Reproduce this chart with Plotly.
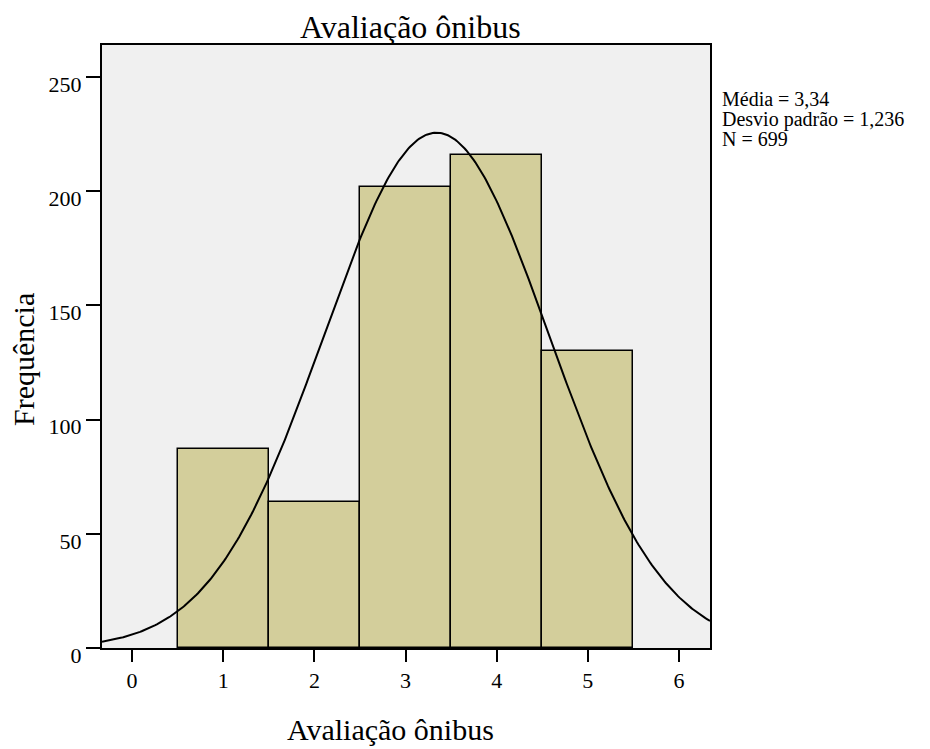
import numpy as np
import plotly.graph_objects as go

categories = [1, 2, 3, 4, 5]
frequencies = [87, 64, 202, 216, 130]
mean_val = 3.34
sd_val = 1.236
n_val = 699
bin_width = 1.0
stats_lines = ["Média = 3,34", "Desvio padrão = 1,236", "N = 699"]

x_curve = np.linspace(-0.33, 6.34, 400)
y_curve = n_val * bin_width / (sd_val * np.sqrt(2 * np.pi)) * np.exp(-0.5 * ((x_curve - mean_val) / sd_val) ** 2)

font_family = "Liberation Serif, Times New Roman, serif"

# plot area in page pixels: x 102..710, y 45..648 (page body has 8px margin)
def px_x(p):
    return (p - 102) / 608.0

def px_y(p):
    return (648 - p) / 603.0

fig = go.Figure()
fig.add_trace(go.Bar(
    x=categories, y=frequencies, width=1,
    marker=dict(color="#d3ce9b", line=dict(color="black", width=1.5)),
    hoverinfo="x+y", showlegend=False,
))
fig.add_trace(go.Scatter(
    x=x_curve, y=y_curve, mode="lines",
    line=dict(color="black", width=2), showlegend=False, hoverinfo="skip",
))

annotations = [
    dict(xref="paper", yref="paper", x=px_x(410), y=px_y(27), xanchor="center", yanchor="middle",
         text="Avaliação ônibus", showarrow=False, font=dict(size=32, family=font_family)),
    dict(xref="paper", yref="paper", x=px_x(390), y=px_y(729), xanchor="center", yanchor="middle",
         text="Avaliação ônibus", showarrow=False, font=dict(size=30, family=font_family)),
    dict(xref="paper", yref="paper", x=px_x(23), y=px_y(360), xanchor="center", yanchor="middle",
         text="Frequência", textangle=-90, showarrow=False, font=dict(size=30, family=font_family)),
]
for i, line in enumerate(stats_lines):
    annotations.append(dict(
        xref="paper", yref="paper", x=px_x(720), y=px_y(99 + 20 * i), xanchor="left", yanchor="middle",
        text=line, align="left", showarrow=False, font=dict(size=20, family=font_family),
    ))

fig.update_layout(
    width=922, height=741,
    margin=dict(l=94, r=220, t=37, b=101),
    paper_bgcolor="white", plot_bgcolor="#f0f0f0",
    font=dict(family=font_family, color="black", size=22),
    bargap=0,
    xaxis=dict(
        range=[-0.33, 6.34], tickmode="array", tickvals=[0, 1, 2, 3, 4, 5, 6],
        ticks="outside", ticklen=12, tickwidth=2, tickcolor="black",
        showgrid=False, zeroline=False, showline=True, linecolor="black", linewidth=2,
        mirror=True, tickfont=dict(size=22),
    ),
    yaxis=dict(
        range=[0, 264], tickmode="array", tickvals=[0, 50, 100, 150, 200, 250],
        ticks="outside", ticklen=14, tickwidth=2, tickcolor="black",
        showgrid=False, zeroline=False, showline=True, linecolor="black", linewidth=2,
        mirror=True, tickfont=dict(size=22), ticklabelshift=7, ticklabelstandoff=0,
    ),
    annotations=annotations,
)

fig.write_html("out.html")
